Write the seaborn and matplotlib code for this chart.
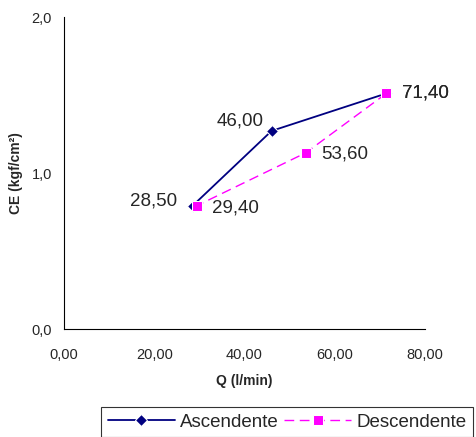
import matplotlib.pyplot as plt
import seaborn as sns
import pandas as pd

# data
q_asc = [28.50, 46.00, 71.40]
ce_asc = [0.79, 1.27, 1.51]
q_desc = [71.40, 53.60, 29.40]
ce_desc = [1.51, 1.13, 0.79]

x_ticks = [0, 20, 40, 60, 80]
y_ticks = [0, 1, 2]

sns.set_style("white")
plt.rcParams['font.family'] = ['Liberation Sans', 'DejaVu Sans']

asc = pd.DataFrame({'Q': q_asc, 'CE': ce_asc})
desc = pd.DataFrame({'Q': q_desc, 'CE': ce_desc})

fig = plt.figure(figsize=(4.77, 4.37), dpi=100)
ax = fig.add_axes([0.134, 0.247, 0.757, 0.714])

sns.lineplot(x='Q', y='CE', data=asc, sort=False, ax=ax, color='#000080',
             marker='D', markersize=6, linewidth=1.3, label='Ascendente')
sns.lineplot(x='Q', y='CE', data=desc, sort=False, ax=ax, color='#FF00FF',
             marker='s', markersize=7.5, linewidth=1.0, dashes=(7, 4),
             label='Descendente')


def fmt(v):
    return f"{v:.2f}".replace('.', ',')


# data labels (x values)
lab_kw = dict(textcoords='offset points', fontsize=13.5, va='center')
ax.annotate(fmt(q_asc[0]), (q_asc[0], ce_asc[0]), xytext=(-11, 3.5), ha='right', **lab_kw)
ax.annotate(fmt(q_asc[1]), (q_asc[1], ce_asc[1]), xytext=(-6, 7.5), ha='right', **lab_kw)
ax.annotate(fmt(q_asc[2]), (q_asc[2], ce_asc[2]), xytext=(11.5, 0.5), ha='left', **lab_kw)
ax.annotate(fmt(q_desc[2]), (q_desc[2], ce_desc[2]), xytext=(11, -1.5), ha='left', **lab_kw)
ax.annotate(fmt(q_desc[1]), (q_desc[1], ce_desc[1]), xytext=(11, -1), ha='left', **lab_kw)
ax.annotate(fmt(q_desc[0]), (q_desc[0], ce_desc[0]), xytext=(11.5, 0.5), ha='left', **lab_kw)

ax.set_xlim(0, 80)
ax.set_ylim(0, 2)
ax.set_xticks(x_ticks)
ax.set_xticklabels([fmt(v) for v in x_ticks], fontsize=10.5)
ax.set_yticks(y_ticks)
ax.set_yticklabels([f"{v:.1f}".replace('.', ',') for v in y_ticks], fontsize=10.5)
ax.tick_params(direction='out', length=3, width=0.8, color='black')
ax.tick_params(axis='x', pad=10.5)
ax.tick_params(axis='y', pad=5.5)
ax.set_xlabel("Q (l/min)", fontsize=10, fontweight='bold', labelpad=9)
ax.set_ylabel("CE (kgf/cm²)", fontsize=10, fontweight='bold', labelpad=6)
for side in ['top', 'right']:
    ax.spines[side].set_visible(False)
for side in ['left', 'bottom']:
    ax.spines[side].set_color('black')
    ax.spines[side].set_linewidth(0.8)

ax.legend_.remove()
handles, labels = ax.get_legend_handles_labels()
leg = fig.legend(handles, labels, loc='upper left',
                 bbox_to_anchor=(101 / 477, 1 - 407 / 437),
                 ncol=2, fontsize=13.5, frameon=True, fancybox=False,
                 edgecolor='black', handlelength=3.6, handletextpad=0.27,
                 columnspacing=0.27, borderpad=0.35, borderaxespad=0)
leg.get_frame().set_linewidth(0.8)

fig.savefig("out.png", dpi=100)
plt.close()
